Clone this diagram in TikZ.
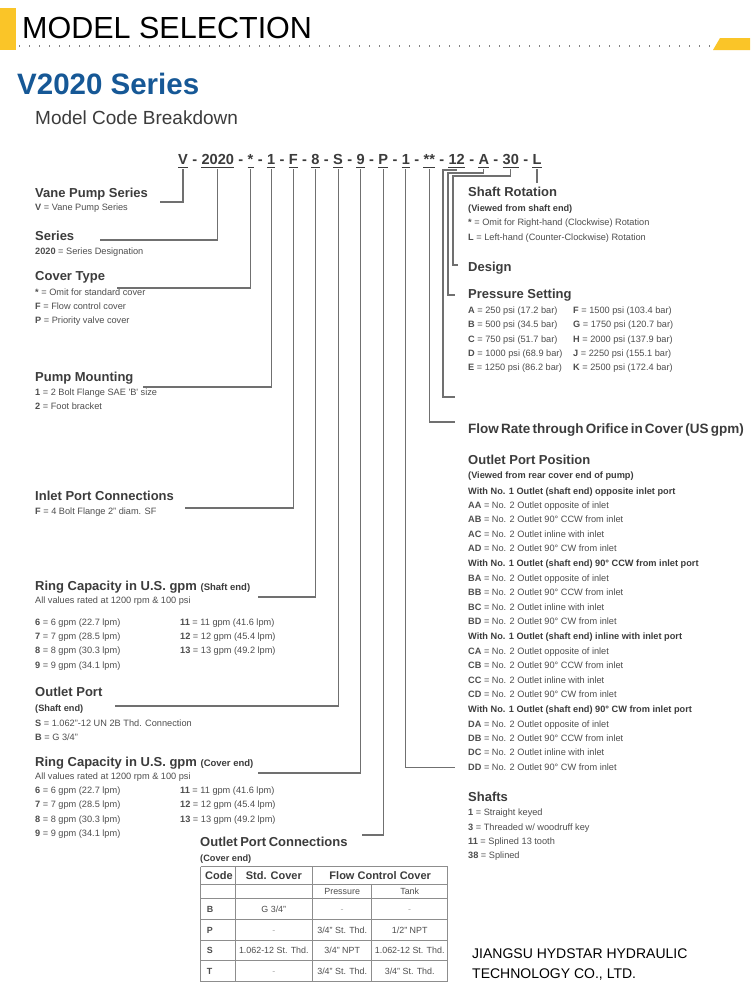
\documentclass[tikz,border=0pt]{standalone}
\usepackage{fontspec}
\setmainfont{Liberation Sans}
\usetikzlibrary{positioning}
\definecolor{hdyel}{RGB}{250,197,40}
\definecolor{hdblue}{RGB}{22,88,150}
\definecolor{ttl}{RGB}{60,60,60}
\definecolor{itm}{RGB}{78,78,78}
\definecolor{lnk}{RGB}{112,112,112}
\newcommand{\kc}[1]{\textbf{#1}}

\begin{document}
\begin{tikzpicture}[x=1pt,y=-1pt,inner sep=0pt,
  hd/.style={anchor=base west,text=ttl,font=\fontsize{13}{15}\selectfont\bfseries},
  it/.style={anchor=base west,text=itm,font=\fontsize{9.2}{11}\selectfont},
  sb/.style={anchor=base west,text=ttl,font=\fontsize{9.2}{11}\selectfont\bfseries},
  cd/.style={text=ttl,font=\fontsize{14.6}{17}\selectfont\bfseries,text depth=4.5pt},
  dsh/.style={text=ttl,font=\fontsize{14.6}{17}\selectfont\bfseries,inner xsep=4pt},
  lk/.style={draw=lnk,line width=1.2pt},
  tb/.style={draw=lnk!80,line width=0.8pt},
  th/.style={anchor=base,text=ttl,font=\fontsize{11}{13}\selectfont\bfseries},
  tc/.style={anchor=base,text=itm,font=\fontsize{8.9}{11}\selectfont}]
\fill[white] (0,0) rectangle (750,1001);
\useasboundingbox (0,0) rectangle (750,1001);

% header
\fill[hdyel] (0,8) rectangle (16,50);
\fill[hdyel] (713,50) -- (720,38) -- (750,38) -- (750,50) -- cycle;
\draw[gray,line width=1.2pt,dash pattern=on 1pt off 9pt] (19,46) -- (712,46);
\node[anchor=base west,font=\fontsize{30.5}{32}\selectfont] (ms) at (22,38.5) {MODEL SELECTION};
\node[anchor=base west,text=hdblue,font=\fontsize{29.5}{31}\selectfont\bfseries] (vs) at (17,94.5) {V2020 Series};
\node[anchor=base west,text=ttl,font=\fontsize{19}{21}\selectfont] (mcb) at (35,124.5) {Model Code Breakdown};

% model code
\node[cd,anchor=base west] (c1) at (178,164.5) {V};
\foreach \t [count=\i from 2] in {2020,*,1,F,8,S,9,P,1,**,12,A,30,L} {
  \pgfmathtruncatemacro\j{\i-1}
  \node[dsh,base right=0pt of c\j] (d\i) {-};
  \node[cd,base right=0pt of d\i] (c\i) {\t};
}
\foreach \i in {1,...,15}
  \draw[draw=ttl,line width=1.2pt] ([yshift=-2.6pt]c\i.base west) -- ([yshift=-2.6pt]c\i.base east);

% left column
\node[hd] (a1) at (35,197.3) {Vane Pump Series};
\node[it] (a1i) at (35,210.7) {\kc{V} = Vane Pump Series};
\node[hd] (a2) at (35,240) {Series};
\node[it] (a2i) at (35,254) {\kc{2020} = Series Designation};
\node[hd] (a3) at (35,280.7) {Cover Type};
\foreach \t [count=\i] in {{\kc{*} = Omit for standard cover},{\kc{F} = Flow control cover},{\kc{P} = Priority valve cover}}
  \node[it] (a3\i) at (35,{295+14.2*(\i-1)}) {\t};
\node[hd] (a4) at (35,381.7) {Pump Mounting};
\node[it] (a41) at (35,395.5) {\kc{1} = 2 Bolt Flange SAE \textquotesingle B\textquotesingle\ size};
\node[it] (a42) at (35,409.5) {\kc{2} = Foot bracket};
\node[hd] (a5) at (35,500) {Inlet Port Connections};
\node[it] (a51) at (35,514.3) {\kc{F} = 4 Bolt Flange 2" diam. SF};
\node[hd] (a6) at (35,590) {Ring Capacity in U.S. gpm {\fontsize{9.5}{11}\selectfont (Shaft end)}};
\node[it] (a6i) at (35,603.3) {All values rated at 1200 rpm \& 100 psi};
\foreach \n/\v [count=\i] in {6/22.7,7/28.5,8/30.3,9/34.1}
  \node[it] (r6\i) at (35,{625+14.4*(\i-1)}) {\kc{\n} = \n\ gpm (\v\ lpm)};
\foreach \n/\v [count=\i] in {11/41.6,12/45.4,13/49.2}
  \node[it] (s6\i) at (180,{625+14.4*(\i-1)}) {\kc{\n} = \n\ gpm (\v\ lpm)};
\node[hd] (a7) at (35,696) {Outlet Port};
\node[sb] (a7s) at (35,711) {(Shaft end)};
\node[it] (a71) at (35,726) {\kc{S} = 1.062"-12 UN 2B Thd. Connection};
\node[it] (a72) at (35,740) {\kc{B} = G 3/4"};
\node[hd] (a8) at (35,766) {Ring Capacity in U.S. gpm {\fontsize{9.5}{11}\selectfont (Cover end)}};
\node[it] (a8i) at (35,779.3) {All values rated at 1200 rpm \& 100 psi};
\foreach \n/\v [count=\i] in {6/22.7,7/28.5,8/30.3,9/34.1}
  \node[it] (r8\i) at (35,{793.3+14.4*(\i-1)}) {\kc{\n} = \n\ gpm (\v\ lpm)};
\foreach \n/\v [count=\i] in {11/41.6,12/45.4,13/49.2}
  \node[it] (s8\i) at (180,{793.3+14.4*(\i-1)}) {\kc{\n} = \n\ gpm (\v\ lpm)};
\node[hd] (a9) at (200,846.5) {{\spaceskip=2.5pt\relax Outlet Port Connections}};
\node[sb] (a9s) at (200,861.7) {(Cover end)};

% table
\foreach \y in {866.7,884.3,898.3,919.3,940,960.7,981.7}
  \draw[tb] (200.7,\y) -- (447.7,\y);
\foreach \x in {200.7,235,312.7,447.7}
  \draw[tb] (\x,866.7) -- (\x,981.7);
\draw[tb] (371.7,884.3) -- (371.7,981.7);
\node[th,anchor=base west] (tc) at (205,879.5) {Code};
\node[th] (ts) at (273.8,879.5) {Std. Cover};
\node[th] (tf) at (380.2,879.5) {Flow Control Cover};
\node[tc] (tp) at (342.2,894.6) {Pressure};
\node[tc] (tt) at (409.7,894.6) {Tank};
\node[tc,anchor=base west] (tB) at (206.7,912.1) {\kc{B}};
\node[tc] (tB1) at (273.8,912.1) {G 3/4"};
\node[tc,text=lnk!60] (tB2) at (342.2,912.1) {-};
\node[tc,text=lnk!60] (tB3) at (409.7,912.1) {-};
\node[tc,anchor=base west] (tP) at (206.7,933) {\kc{P}};
\node[tc,text=lnk!60] (tP1) at (273.8,933) {-};
\node[tc] (tP2) at (342.2,933) {3/4" St. Thd.};
\node[tc] (tP3) at (409.7,933) {1/2" NPT};
\node[tc,anchor=base west] (tS) at (206.7,953.6) {\kc{S}};
\node[tc] (tS1) at (273.8,953.6) {1.062-12 St. Thd.};
\node[tc] (tS2) at (342.2,953.6) {3/4" NPT};
\node[tc] (tS3) at (409.7,953.6) {1.062-12 St. Thd.};
\node[tc,anchor=base west] (tT) at (206.7,974.5) {\kc{T}};
\node[tc,text=lnk!60] (tT1) at (273.8,974.5) {-};
\node[tc] (tT2) at (342.2,974.5) {3/4" St. Thd.};
\node[tc] (tT3) at (409.7,974.5) {3/4" St. Thd.};

% right column
\node[hd] (b1) at (468,196.7) {Shaft Rotation};
\node[sb] (b1s) at (468,211.7) {(Viewed from shaft end)};
\node[it] (b11) at (468,225.7) {\kc{*} = Omit for Right-hand (Clockwise) Rotation};
\node[it] (b12) at (468,240) {\kc{L} = Left-hand (Counter-Clockwise) Rotation};
\node[hd] (b2) at (468,271.7) {Design};
\node[hd] (b3) at (468,298.3) {Pressure Setting};
\foreach \l/\p/\b [count=\i] in {A/250/17.2,B/500/34.5,C/750/51.7,D/1000/68.9,E/1250/86.2}
  \node[it] (p\i) at (468,{313.3+14.4*(\i-1)}) {\kc{\l} = \p\ psi (\b\ bar)};
\foreach \l/\p/\b [count=\i] in {F/1500/103.4,G/1750/120.7,H/2000/137.9,J/2250/155.1,K/2500/172.4}
  \node[it] (q\i) at (573,{313.3+14.4*(\i-1)}) {\kc{\l} = \p\ psi (\b\ bar)};
\node[hd,font=\fontsize{13.5}{15}\selectfont\bfseries] (b4) at (468,433.3)
  {{\spaceskip=2.2pt\relax Flow Rate through Orifice in Cover (US gpm)}};
\node[hd] (b5) at (468,464) {Outlet Port Position};
\node[sb] (b5s) at (468,478) {(Viewed from rear cover end of pump)};
\foreach \g/\h [count=\k] in {A/opposite inlet port,B/90° CCW from inlet port,C/inline with inlet port,D/90° CW from inlet port} {
  \node[sb] (g\k) at (468,{494+72.9*(\k-1)}) {With No. 1 Outlet (shaft end) \h};
  \foreach \s/\d [count=\j] in {A/opposite of inlet,B/90° CCW from inlet,C/inline with inlet,D/90° CW from inlet}
    \node[it] (g\k-\j) at (468,{494+72.9*(\k-1)+14.4*\j}) {\kc{\g\s} = No. 2 Outlet \d};
}
\node[hd] (b6) at (468,801.7) {Shafts};
\node[it] (b61) at (468,815.7) {\kc{1} = Straight keyed};
\node[it] (b62) at (468,830) {\kc{3} = Threaded w/ woodruff key};
\node[it] (b63) at (468,844.3) {\kc{11} = Splined 13 tooth};
\node[it] (b64) at (468,858.6) {\kc{38} = Splined};

% footer
\node[anchor=base west,font=\fontsize{14}{16}\selectfont] (f1) at (472,958.3) {JIANGSU HYDSTAR HYDRAULIC};
\node[anchor=base west,font=\fontsize{14}{16}\selectfont] (f2) at (472,978.3) {TECHNOLOGY CO., LTD.};

% connector ends
\coordinate (e1) at (160,202);
\coordinate (e2) at (100,240);
\coordinate (e3) at (117,288);
\coordinate (e4) at (143,387);
\coordinate (e5) at (185,508);
\coordinate (e6) at (258,597);
\coordinate (e7) at (115,706);
\coordinate (e8) at (258,773);
\coordinate (e9) at (362,835);
\coordinate (e10) at (455,767.3);
\coordinate (e11) at (455,422);
\coordinate (e12) at (455,397);
\coordinate (e13) at (455,295);
\coordinate (e14) at (458,265);
\coordinate (k12) at (443,170);
\coordinate (k13) at (448,173);
\coordinate (k14) at (453,176);

\foreach \i in {1,...,11}
  \draw[lk] (c\i.south) |- (e\i);
\foreach \i in {12,13,14}
  \draw[lk] (c\i.south) |- (k\i) |- (e\i);
\draw[lk] (c15.south) -- ++(0,14);
\end{tikzpicture}
\end{document}
